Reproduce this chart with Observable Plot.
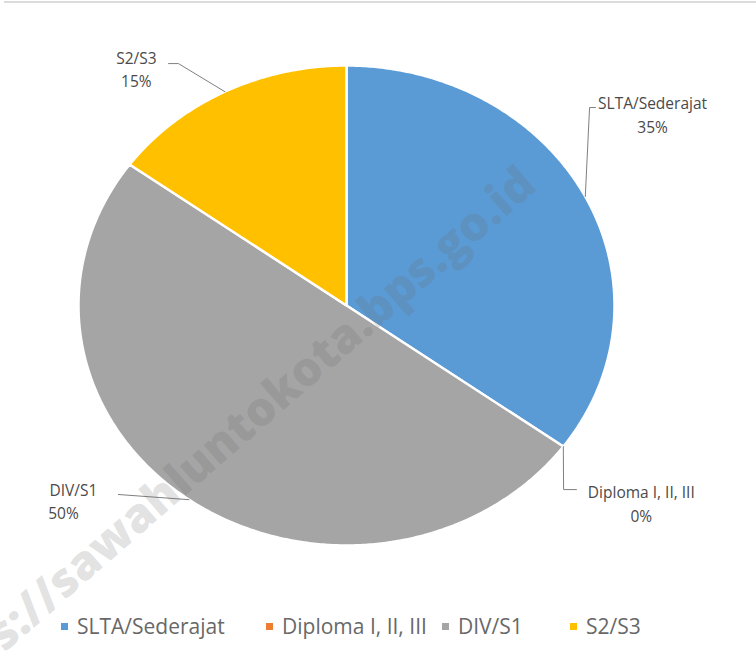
<!DOCTYPE html>
<html>
<head>
<meta charset="utf-8">
<script src="https://cdn.jsdelivr.net/npm/d3@7"></script>
<script src="https://cdn.jsdelivr.net/npm/@observablehq/plot@0.6"></script>
<style>
  html, body { margin: 0; padding: 0; background: #fff; }
  body { width: 756px; height: 653px; position: relative; overflow: hidden; font-family: "Open Sans", sans-serif; }
  #topline { position: absolute; left: 4px; right: 0; top: 1px; height: 2px; background: #dcdcdc; }
  #chart { position: absolute; left: 0; top: 0; }
  #legend { position: absolute; left: 0; top: 611px; width: 756px; height: 30px; font-size: 21px; color: #686868; white-space: nowrap; }
  #legend .item { position: absolute; top: 0; display: flex; align-items: center; height: 30px; }
  #legend .sw { width: 7px; height: 7px; margin-right: 9px; }
</style>
</head>
<body>
<div id="chart"></div>
<div id="topline"></div>
<div id="legend"></div>
<script>
// ---- data ----
const categories = ["SLTA/Sederajat", "Diploma I, II, III", "DIV/S1", "S2/S3"];
const values = [35, 0, 50, 15];
const pctLabels = ["35%", "0%", "50%", "15%"];
const colors = ["#5B9BD5", "#ED7D31", "#A5A5A5", "#FFC000"];

// ---- label layout (pie units: radius = 1) ----
const labelPos = [
  {nx: 1.142, ny: 0.8375, px: 1.142, py: 0.7375, elbow: [[0.929, 0.825], [0.907, 0.825]]},
  {nx: 1.10, ny: -0.783, px: 1.10, py: -0.883, elbow: [[0.858, -0.767], [0.810, -0.767]]},
  {nx: -1.019, ny: -0.775, px: -1.056, py: -0.867, elbow: [[-0.851, -0.7875]]},
  {nx: -0.784, ny: 1.029, px: -0.784, py: 0.933, elbow: [[-0.664, 1.008], [-0.627, 1.008]]}
];
// legend item left edges (px)
const legendLeft = [61, 266, 442, 570];

const table = categories.map((c, i) => ({cat: c, value: values[i], pct: pctLabels[i], color: colors[i]}));
const arcs = d3.pie().sort(null).value(d => d.value)(table);

// slice polygons
const slices = arcs.filter(a => a.data.value > 0).map(a => {
  const pts = [{x: 0, y: 0}];
  const n = Math.max(2, Math.ceil((a.endAngle - a.startAngle) / (Math.PI / 360)));
  for (let k = 0; k <= n; k++) {
    const t = a.startAngle + (a.endAngle - a.startAngle) * k / n;
    pts.push({x: Math.sin(t), y: Math.cos(t)});
  }
  pts.push({x: 0, y: 0});
  return {color: a.data.color, pts};
});

// leader lines
const leaders = arcs.map((a, i) => {
  const mid = (a.startAngle + a.endAngle) / 2;
  const pts = labelPos[i].elbow.map(([x, y]) => ({x, y}));
  pts.push({x: Math.sin(mid), y: Math.cos(mid)});
  return pts;
});

const nameLabels = arcs.map((a, i) => ({x: labelPos[i].nx, y: labelPos[i].ny, text: a.data.cat}));
const valLabels = arcs.map((a, i) => ({x: labelPos[i].px, y: labelPos[i].py, text: a.data.pct}));

const marks = [];
slices.forEach(s => marks.push(Plot.line(s.pts, {x: "x", y: "y", fill: s.color, stroke: "#ffffff", strokeWidth: 2.5, strokeLinejoin: "round"})));
leaders.forEach(l => marks.push(Plot.line(l, {x: "x", y: "y", stroke: "#7f7f7f", strokeWidth: 1})));
marks.push(Plot.text(nameLabels, {x: "x", y: "y", text: "text", fontSize: 15.5, fill: "#4a4a4a"}));
marks.push(Plot.text(valLabels, {x: "x", y: "y", text: "text", fontSize: 15.5, fill: "#4a4a4a"}));
// watermark
marks.push(Plot.text(["https://sawahluntokota.bps.go.id"], {x: () => 0.68, y: () => 0.535, text: d => d, textAnchor: "end", rotate: -41, fontSize: 47, fontWeight: 800, fill: "#6a6a6a", fillOpacity: 0.2}));

const chart = Plot.plot({
  width: 756,
  height: 653,
  margin: 0,
  style: {fontFamily: "Open Sans, sans-serif", background: "transparent"},
  x: {domain: [-1, 1], range: [78, 614], axis: null},
  y: {domain: [-1, 1], range: [545, 65], axis: null},
  marks
});
document.getElementById("chart").appendChild(chart);

// legend
const leg = document.getElementById("legend");
categories.forEach((c, i) => {
  const it = document.createElement("div");
  it.className = "item";
  it.style.left = legendLeft[i] + "px";
  const sw = document.createElement("div");
  sw.className = "sw";
  sw.style.background = colors[i];
  const tx = document.createElement("span");
  tx.textContent = c;
  it.appendChild(sw);
  it.appendChild(tx);
  leg.appendChild(it);
});
</script>
</body>
</html>
